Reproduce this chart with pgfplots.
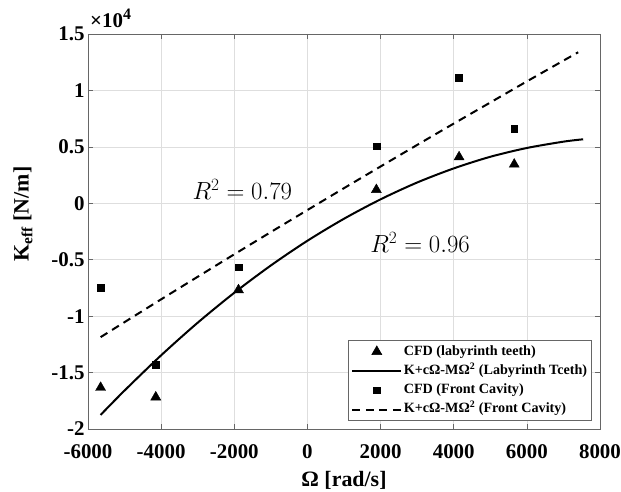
\documentclass[border=0pt]{standalone}
\usepackage{fontspec}
\setmainfont{Liberation Serif}
\usepackage{pgfplots}
\pgfplotsset{compat=1.18}
\definecolor{axgray}{gray}{0.4}
\definecolor{gridgray}{gray}{0.87}
\pgfplotsset{
  mylinelegend/.style={legend image code/.code={\draw[##1] (0bp,0bp) -- (49bp,0bp);}},
  mymarklegend/.style={legend image code/.code={\draw[mark repeat=2, mark phase=2, ##1] plot coordinates {(0bp,0bp) (24.5bp,0bp) (49bp,0bp)};}},
}
\begin{document}
\begin{tikzpicture}
\begin{axis}[
  at={(0,0)}, anchor=south west,
  scale only axis, width=512bp, height=395bp,
  xmin=-6000, xmax=8000, ymin=-2, ymax=1.5,
  xtick={-6000,-4000,-2000,0,2000,4000,6000,8000},
  ytick={-2,-1.5,-1,-0.5,0,0.5,1,1.5},
  scaled x ticks=false, scaled y ticks=false,
  /pgf/number format/assume math mode=true,
  /pgf/number format/1000 sep={},
  ticklabel style={font=\fontsize{21}{25}\selectfont\bfseries},
  xticklabel style={yshift=-12bp},
  grid=major, grid style={gridgray, line width=0.5pt},
  tick align=inside, major tick length=5bp,
  axis line style={axgray, line width=0.6pt},
  tick style={axgray, line width=0.6pt},
  xlabel={Ω [rad/s]},
  label style={font=\fontsize{22}{26}\selectfont\bfseries},
  xlabel style={at={(rel axis cs:0.5,0)}, anchor=center, yshift=-51bp},
  legend cell align=left,
  legend style={at={(1,0)}, anchor=south east, xshift=-8bp, yshift=8bp,
    draw=axgray, fill=white, line width=0.6pt,
    font=\fontsize{14.2}{17}\selectfont\bfseries,
    inner xsep=3bp, inner ysep=1.4bp, row sep=0pt,
    nodes={inner xsep=1.5bp, inner ysep=2.9bp, text height=10bp, text depth=3.5bp}},
]
\addplot[only marks, mark=triangle*, mark size=5.8bp, black, mymarklegend]
  coordinates {(-5655,-1.633) (-4147,-1.718) (-1885,-0.768) (1885,0.12) (4147,0.41) (5655,0.345)};
\addlegendentry{CFD (labyrinth teeth)}
\addplot[black, line width=2bp, smooth, mylinelegend]
  coordinates {(-5655,-1.875) (-5000,-1.659) (-4000,-1.347) (-3000,-1.058) (-2000,-0.793) (-1000,-0.551) (0,-0.332) (1000,-0.137) (2000,0.035) (3000,0.184) (4000,0.309) (5000,0.412) (6000,0.490) (7000,0.546) (7540,0.567)};
\addlegendentry{K+cΩ-MΩ\textsuperscript{2} (Labyrinth Tceth)}
\addplot[only marks, mark=square*, mark size=3.4bp, black, mymarklegend]
  coordinates {(-5655,-0.748) (-4147,-1.432) (-1885,-0.567) (1885,0.506) (4147,1.11) (5655,0.662)};
\addlegendentry{CFD (Front Cavity)}
\addplot[black, line width=2bp, dash pattern=on 8bp off 5.5bp, smooth, mylinelegend]
  coordinates {(-5655,-1.186) (-5000,-1.053) (-4000,-0.851) (-3000,-0.651) (-2000,-0.452) (-1000,-0.255) (0,-0.06) (1000,0.134) (2000,0.326) (3000,0.517) (4000,0.706) (5000,0.893) (6000,1.080) (7000,1.264) (7404,1.338)};
\addlegendentry{K+cΩ-MΩ\textsuperscript{2} (Front Cavity)}
\node[font=\fontsize{27}{31}\selectfont] at (axis cs:-1780,0.12) {$R^2 = 0.79$};
\node[font=\fontsize{27}{31}\selectfont] at (axis cs:3080,-0.35) {$R^2 = 0.96$};
\end{axis}
\node[rotate=90, anchor=center, font=\fontsize{22}{26}\selectfont\bfseries] at (-65bp,215bp) {K\textsubscript{eff} [N/m]};
\node[anchor=base west, inner sep=0pt, font=\fontsize{21}{24}\selectfont\bfseries] at (2bp,401bp) {×10\raisebox{8bp}{\fontsize{16}{18}\selectfont\bfseries 4}};
\pgfresetboundingbox
\path[use as bounding box] (-88bp,-63bp) rectangle (533bp,429bp);
\end{tikzpicture}
\end{document}
